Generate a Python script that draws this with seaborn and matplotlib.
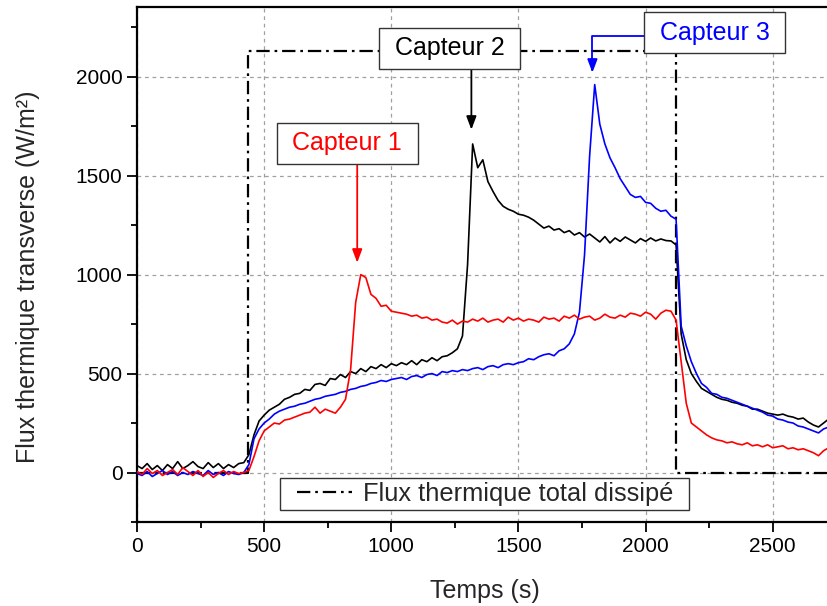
import numpy as np
import pandas as pd
import matplotlib
matplotlib.use("Agg")
import matplotlib.pyplot as plt
from matplotlib.patches import Rectangle
import seaborn as sns

# ---------------- data ----------------
time_s = list(range(0, 2721, 20))

capteur1 = [5, -10, 20, -5, 10, -15, 0, 15, -10, 25, 5, -15, 10, -20, 0, -25, -5, 10, -10, 5, -5, 0,
            10, 80, 160, 210, 230, 250, 245, 265, 270, 280, 290, 300, 305, 330, 300, 320, 310, 300, 330, 370,
            520, 860, 1000, 985, 900, 880, 840, 845, 815, 810, 805, 800, 790, 795, 780, 785, 770, 775, 760,
            755, 770, 750, 765, 760, 775, 765, 780, 760, 770, 775, 760, 785, 770, 780, 765, 775, 770, 760,
            785, 775, 780, 765, 790, 780, 795, 775, 785, 790, 770, 780, 800, 785, 780, 795, 785, 805, 800,
            790, 810, 800, 775, 805, 820, 815, 770, 560, 350, 250, 230, 210, 190, 175, 165, 160, 150, 155,
            145, 140, 150, 135, 140, 130, 140, 125, 130, 135, 120, 125, 115, 120, 110, 100, 85, 110, 125]

capteur2 = [35, 20, 45, 15, 35, 10, 40, 20, 55, 20, 35, 55, 30, 20, 50, 25, 45, 20, 40, 25, 45, 50,
            90, 190, 260, 290, 315, 330, 345, 370, 380, 395, 400, 420, 415, 445, 450, 440, 475, 470, 495,
            480, 510, 500, 525, 510, 535, 525, 545, 530, 550, 540, 555, 545, 565, 545, 570, 560, 580, 565,
            585, 590, 605, 625, 690, 1050, 1660, 1540, 1580, 1470, 1420, 1375, 1345, 1330, 1320, 1305, 1300,
            1290, 1275, 1255, 1235, 1245, 1225, 1232, 1212, 1222, 1200, 1212, 1190, 1205, 1185, 1165, 1192,
            1160, 1185, 1168, 1190, 1175, 1160, 1182, 1168, 1185, 1170, 1180, 1172, 1170, 1150, 700, 570,
            500, 460, 425, 410, 395, 380, 370, 365, 355, 350, 340, 335, 320, 320, 310, 300, 295, 290, 295,
            285, 280, 270, 275, 255, 240, 230, 250, 270]

capteur3 = [-5, -15, 5, -20, -5, 10, -10, 5, -15, 0, -10, 5, -5, -15, 10, -10, 0, -15, 5, -5, -10, 0,
            40, 170, 220, 250, 270, 295, 310, 320, 330, 335, 345, 350, 360, 370, 375, 385, 390, 395, 405,
            410, 420, 425, 435, 440, 450, 455, 465, 460, 470, 475, 480, 470, 485, 490, 480, 495, 500, 490,
            510, 505, 515, 510, 520, 515, 525, 530, 520, 535, 540, 530, 545, 550, 545, 555, 560, 575, 570,
            585, 595, 600, 590, 615, 625, 650, 700, 810, 1100, 1600, 1960, 1760, 1660, 1590, 1540, 1485,
            1445, 1405, 1390, 1395, 1365, 1360, 1335, 1320, 1325, 1295, 1280, 740, 640, 560, 500, 450, 430,
            400, 395, 380, 375, 365, 355, 345, 335, 325, 315, 305, 290, 285, 270, 265, 255, 250, 235, 230,
            220, 210, 200, 220, 230]

flux_time = [0, 437, 437, 2118, 2118, 2720]
flux_total = [0, 0, 2130, 2130, 0, 0]

x_ticks = [0, 500, 1000, 1500, 2000, 2500]
y_ticks = [0, 500, 1000, 1500, 2000]

# ---------------- style ----------------
sns.set_style("ticks")
plt.rcParams['font.family'] = ['Liberation Sans', 'DejaVu Sans']

fig = plt.figure(figsize=(8.27, 6.06), dpi=100)
ax = fig.add_axes([137 / 827, 1 - 522 / 606, 1 - 137 / 827 + 0.002, (522 - 7) / 606])

df = pd.DataFrame({"t": time_s, "c1": capteur1, "c2": capteur2, "c3": capteur3})
dflux = pd.DataFrame({"t": flux_time, "f": flux_total})

sns.lineplot(data=dflux, x="t", y="f", ax=ax, color="black", lw=1.6,
             linestyle=(0, (6, 2.2, 1.2, 2.2)), estimator=None, sort=False,
             label="Flux thermique total dissipé", zorder=3)
sns.lineplot(data=df, x="t", y="c2", ax=ax, color="black", lw=1.2, estimator=None, legend=False, zorder=4)
sns.lineplot(data=df, x="t", y="c3", ax=ax, color="#0000ff", lw=1.2, estimator=None, legend=False, zorder=4)
sns.lineplot(data=df, x="t", y="c1", ax=ax, color="#ff0000", lw=1.2, estimator=None, legend=False, zorder=4)

ax.set_xlim(0, 2720)
ax.set_ylim(-250, 2352)
ax.set_xticks(x_ticks)
ax.set_yticks(y_ticks)
ax.set_xticks(np.arange(250, 2720, 500), minor=True)
ax.set_yticks([-250, 250, 750, 1250, 1750, 2250], minor=True)
ax.tick_params(axis="both", which="major", direction="out", length=7, width=1.3,
               labelsize=15, color="black", labelcolor="black")
ax.tick_params(axis="both", which="minor", direction="out", length=4, width=1.3, color="black")
ax.tick_params(top=False, right=False)

ax.grid(True, which="major", color="#a0a0a0", linestyle=(0, (3, 3)), lw=0.9)
ax.set_axisbelow(True)
for s in ["left", "bottom", "top"]:
    ax.spines[s].set_color("black")
    ax.spines[s].set_linewidth(1.6)
ax.spines["right"].set_visible(False)

ax.set_xlabel("Temps (s)", fontsize=18)
ax.set_ylabel("Flux thermique transverse (W/m²)", fontsize=18)
ax.xaxis.set_label_coords(0.503, -0.110)
ax.yaxis.set_label_coords(-0.1406, 0.476)

# legend (frame drawn as a separate rectangle to match the wide padding)
leg = ax.legend(loc="center", bbox_to_anchor=(0.5035, 0.0544), borderaxespad=0,
                fontsize=18.3, frameon=False, handlelength=2.15,
                borderpad=0.1, handletextpad=0.45)
ax.add_patch(Rectangle((0.2072, 0.0233), 0.5914, 0.0621, transform=ax.transAxes,
                       fc="white", ec="#333333", lw=1.0, zorder=5))
leg.set_zorder(6)

box = dict(boxstyle="square,pad=0.34", fc="white", ec="#333333", lw=1.0)
ax.annotate("", xy=(866, 1060), xytext=(866, 1565),
            arrowprops=dict(arrowstyle="-|>,head_length=0.8,head_width=0.3", color="#ff0000", lw=1.3,
                            shrinkA=0, shrinkB=0))
ax.text(827, 1663, " Capteur 1 ", color="#ff0000", fontsize=18, ha="center", va="center", bbox=box, zorder=6)

ax.annotate("", xy=(1315, 1732), xytext=(1315, 2045),
            arrowprops=dict(arrowstyle="-|>,head_length=0.8,head_width=0.3", color="black", lw=1.3,
                            shrinkA=0, shrinkB=0))
ax.text(1230, 2144, " Capteur 2 ", color="black", fontsize=18, ha="center", va="center", bbox=box, zorder=6)

ax.annotate("", xy=(1791, 2020), xytext=(2003, 2203),
            arrowprops=dict(arrowstyle="-|>,head_length=0.8,head_width=0.3", color="#0000ff", lw=1.3,
                            shrinkA=0, shrinkB=0,
                            connectionstyle="angle,angleA=180,angleB=90,rad=0"))
ax.text(2272, 2222, " Capteur 3 ", color="#0000ff", fontsize=18, ha="center", va="center", bbox=box, zorder=6)

fig.savefig("out.png", dpi=100)
